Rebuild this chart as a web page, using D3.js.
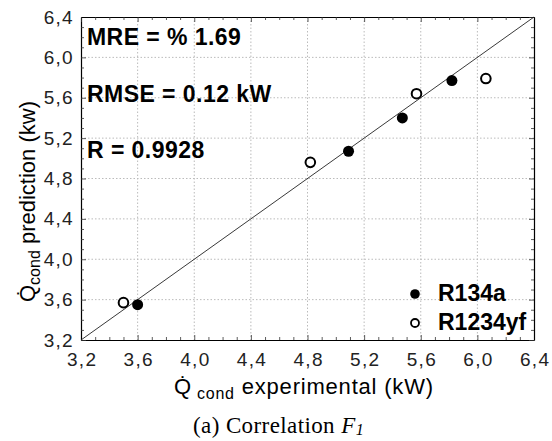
<!DOCTYPE html>
<html><head><meta charset="utf-8">
<script src="https://cdn.jsdelivr.net/npm/d3@7"></script>
<style>body{margin:0;background:#fff}svg{display:block}</style>
</head><body>
<script>
const r134aX = [3.60, 5.09, 5.47, 5.82];
const r134aY = [3.55, 5.07, 5.40, 5.77];
const r1234yfX = [3.50, 4.82, 5.57, 6.06];
const r1234yfY = [3.57, 4.96, 5.64, 5.79];
const tickValues = [3.2, 3.6, 4.0, 4.4, 4.8, 5.2, 5.6, 6.0, 6.4];
const tickLabels = ["3,2","3,6","4,0","4,4","4,8","5,2","5,6","6,0","6,4"];
const statsText = ["MRE = % 1.69", "RMSE = 0.12 kW", "R = 0.9928"];
const legendNames = ["R134a", "R1234yf"];

const W = 552, H = 441;
const L = 81, R = 534, T = 17, B = 340;
const svg = d3.select("body").append("svg").attr("width", W).attr("height", H);
const x = d3.scaleLinear().domain([3.2, 6.4]).range([L, R]);
const y = d3.scaleLinear().domain([3.2, 6.4]).range([B, T]);
const font = "'Liberation Sans', Arial, sans-serif";

// grid
const g = svg.append("g");
g.selectAll(".gx").data(tickValues.slice(1, -1)).enter().append("line")
  .attr("x1", d => x(d)).attr("x2", d => x(d)).attr("y1", T).attr("y2", B)
  .attr("stroke", "#bbb").attr("stroke-width", 1).attr("stroke-dasharray", "1.5,2");
g.selectAll(".gy").data(tickValues.slice(1, -1)).enter().append("line")
  .attr("y1", d => y(d)).attr("y2", d => y(d)).attr("x1", L).attr("x2", R)
  .attr("stroke", "#bbb").attr("stroke-width", 1).attr("stroke-dasharray", "1.5,2");

// axes
const minor = d3.range(32, 65).map(v => v / 10);
const isMajor = d => tickValues.some(t => Math.abs(t - d) < 1e-6);
function mkAxis(axisFn, scale, labels) {
  return axisFn(scale).tickValues(minor).tickSizeInner(-3).tickSizeOuter(0).tickPadding(8)
    .tickFormat(d => { const i = tickValues.findIndex(t => Math.abs(t - d) < 1e-6); return i >= 0 ? labels[i] : ""; });
}
const axB = svg.append("g").attr("transform", `translate(0,${B})`).call(mkAxis(d3.axisBottom, x, tickLabels));
const axL = svg.append("g").attr("transform", `translate(${L},0)`).call(mkAxis(d3.axisLeft, y, tickLabels));
const axT = svg.append("g").attr("transform", `translate(0,${T})`).call(mkAxis(d3.axisTop, x, tickLabels.map(() => "")));
const axR = svg.append("g").attr("transform", `translate(${R},0)`).call(mkAxis(d3.axisRight, y, tickLabels.map(() => "")));
[axB, axL, axT, axR].forEach(a => {
  a.select(".domain").attr("stroke", "#000").attr("stroke-width", 1.2);
  a.selectAll(".tick line").attr("stroke", "#333").attr("stroke-width", 0.8);
  a.selectAll("text").attr("font-family", font).attr("font-size", 19).attr("fill", "#222")
    .attr("letter-spacing", 1.3);
});
axB.selectAll(".tick line").attr("y2", d => isMajor(d) ? -5 : -3);
axT.selectAll(".tick line").attr("y2", d => isMajor(d) ? 5 : 3);
axL.selectAll(".tick line").attr("x2", d => isMajor(d) ? 5 : 3);
axR.selectAll(".tick line").attr("x2", d => isMajor(d) ? -5 : -3);
axB.selectAll("text").attr("dy", "0.75em").attr("y", 12).attr("dx", 0.6);
axL.selectAll("text").attr("x", -7);

// diagonal
svg.append("line").attr("x1", x(3.2)).attr("y1", y(3.2)).attr("x2", x(6.4)).attr("y2", y(6.4))
  .attr("stroke", "#222").attr("stroke-width", 0.9);

// points
const d1 = r134aX.map((v, i) => [v, r134aY[i]]);
const d2 = r1234yfX.map((v, i) => [v, r1234yfY[i]]);
svg.selectAll(".p1").data(d1).enter().append("circle")
  .attr("cx", d => x(d[0])).attr("cy", d => y(d[1])).attr("r", 5.5).attr("fill", "#000");
svg.selectAll(".p2").data(d2).enter().append("circle")
  .attr("cx", d => x(d[0])).attr("cy", d => y(d[1])).attr("r", 4.8)
  .attr("fill", "#fff").attr("stroke", "#000").attr("stroke-width", 2);

// stats text
svg.selectAll(".st").data(statsText).enter().append("text")
  .attr("x", 87).attr("y", (d, i) => 45 + i * 56.5)
  .attr("font-family", font).attr("font-weight", "bold").attr("font-size", 23).attr("fill", "#000")
  .attr("letter-spacing", 0.45)
  .text(d => d);

// legend
const lg = svg.append("g");
lg.append("circle").attr("cx", 415).attr("cy", 294).attr("r", 4.8).attr("fill", "#000");
lg.append("circle").attr("cx", 415).attr("cy", 323).attr("r", 4).attr("fill", "#fff").attr("stroke", "#000").attr("stroke-width", 1.8);
lg.selectAll("text").data(legendNames).enter().append("text")
  .attr("x", 438).attr("y", (d, i) => 301 + i * 29)
  .attr("font-family", font).attr("font-weight", "bold").attr("font-size", 23).attr("fill", "#000")
  .text(d => d);

// x axis title
const xt = svg.append("text").attr("x", 174).attr("y", 394)
  .attr("font-family", font).attr("font-size", 22).attr("fill", "#000").attr("letter-spacing", 0.8);
xt.append("tspan").text("Q\u0307");
xt.append("tspan").attr("font-size", 16).attr("dy", 5).attr("dx", 5).text("cond");
xt.append("tspan").attr("dy", -5).text(" experimental (kW)");

// y axis title
const yt = svg.append("text").attr("transform", "translate(35,302) rotate(-90)")
  .attr("font-family", font).attr("font-size", 22).attr("fill", "#000");
yt.append("tspan").text("Q\u0307");
yt.append("tspan").attr("font-size", 16).attr("dy", 5).text("cond");
yt.append("tspan").attr("dy", -5).text(" prediction (kw)");

// caption
const cap = svg.append("text").attr("x", 193).attr("y", 433)
  .attr("font-family", "'Liberation Serif', 'Times New Roman', serif").attr("font-size", 23).attr("fill", "#000")
  .attr("letter-spacing", 0.4);
cap.append("tspan").text("(a) Correlation ");
cap.append("tspan").attr("font-style", "italic").text("F");
cap.append("tspan").attr("font-style", "italic").attr("font-size", 16).attr("dy", 2).text("1");
</script>
</body></html>
